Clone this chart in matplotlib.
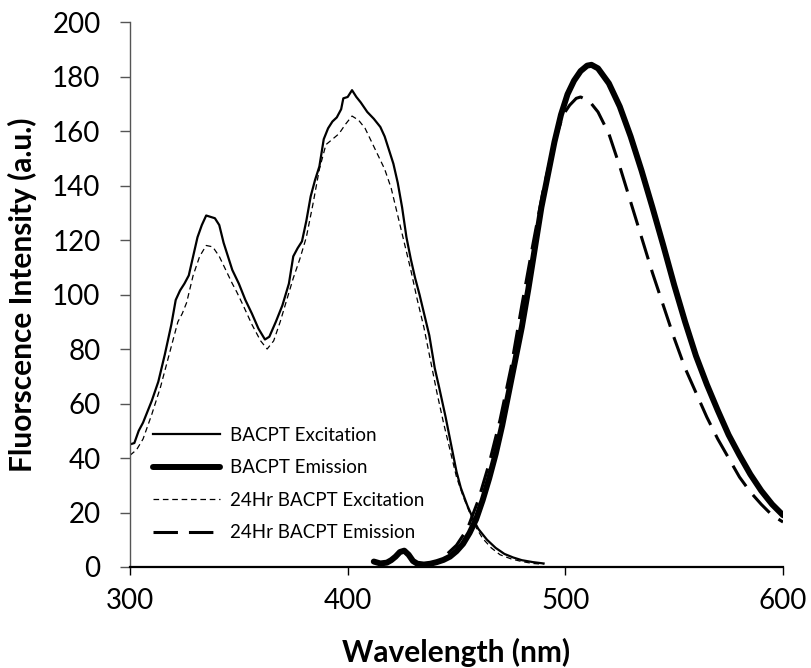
import matplotlib
matplotlib.use("Agg")
import matplotlib.pyplot as plt

plt.rcParams['font.family'] = ['Lato', 'DejaVu Sans']

# BACPT Excitation
exc_x = [300, 302, 304, 306, 308, 310, 313, 316, 319, 321, 323, 325, 327, 329, 331, 333, 335, 337, 339,
         341, 343, 345, 347, 350, 353, 356, 359, 362, 364, 367, 370, 373, 375, 377, 379, 381, 383, 385,
         387, 389, 391, 393, 395, 397, 398, 400, 402, 404, 406, 409, 412, 415, 417, 419, 421, 423, 425,
         427, 429, 431, 433, 436, 437.5, 440, 442, 445, 447, 450, 452, 455, 458, 460, 464, 468, 472,
         476, 480, 485, 490]
exc_y = [45, 45.5, 50, 53, 57, 61, 68, 78, 89, 98, 101.5, 104, 107, 114, 121, 125.5, 129, 128.5, 128,
         125.5, 119, 114, 109, 104, 98, 93, 87.5, 83.5, 84.5, 90, 96, 104, 114, 117, 119.5, 127, 136, 142,
         147, 157, 161, 163.5, 165, 168, 172, 172.5, 175, 172.5, 170.5, 167, 164.5, 161.5, 158, 153, 148,
         141, 132, 121, 113, 106, 100, 90, 85, 73, 66, 55, 47, 35, 29, 22.5, 17, 14, 10, 7, 4.8,
         3.5, 2.5, 1.8, 1.3]

# BACPT Emission
em_x = [412, 415, 418, 420, 422, 424, 426, 428, 430, 432, 435, 438, 441, 444, 447, 450, 453, 456, 459,
        462, 465, 468, 471, 474, 477, 480, 483, 486, 489, 492, 495, 498, 501, 504, 507, 510, 512, 515,
        520, 525, 530, 535, 540, 545, 550, 555, 560, 565, 570, 575, 580, 585, 590, 595, 600]
em_y = [2, 1.3, 1.6, 2.5, 3.8, 5.5, 6, 4.5, 2.2, 1.2, 0.9, 1.2, 1.8, 2.6, 3.8, 5.8, 8.5, 12.5, 17.5,
        24.5, 32.5, 41.5, 52, 64, 76, 88, 102, 117, 132, 144, 156, 166, 173.5, 178.5, 182, 184, 184.3, 183,
        177.5, 169, 158, 145.5, 132, 118, 103.5, 90, 77.5, 67, 57.5, 48.5, 41, 34, 28, 23, 19]

# 24Hr BACPT Excitation
exc24_x = [300, 303, 306, 310, 314, 318, 322, 324, 326, 329, 332, 335, 338, 341, 344, 347, 349, 352, 356,
           360, 363, 366, 369, 372, 375, 378, 381, 384, 387, 390, 393, 396, 399, 402, 405, 408, 411, 414,
           417, 420, 423, 426, 429, 432, 435, 438, 441, 444, 447, 450, 453, 456, 459, 462, 466, 470, 475,
           480, 485, 490]
exc24_y = [41, 43, 47, 56, 66, 78, 90, 93, 97, 107, 114, 118, 117.5, 114, 109, 104, 101, 96, 89,
           83, 80, 83, 90, 98, 106, 113, 121, 133, 146, 155, 157, 159, 162.5, 165.5, 164, 161, 156, 151,
           146, 139, 129, 119, 109, 98, 88, 76, 64, 53, 43, 33, 26, 20, 14.5, 10.5, 7, 4.5, 3,
           2, 1.3, 1]

# 24Hr BACPT Emission
em24_x = [446, 450, 455, 460, 465, 470, 475, 480, 485, 490, 495, 499, 502, 505, 507, 511, 515, 520, 525,
          530, 535, 540, 545, 550, 555, 560, 565, 570, 575, 580, 585, 590, 595, 600]
em24_y = [5, 8, 14, 24.5, 38, 54, 73, 96, 118, 139, 156, 166, 169.5, 172, 172.5, 171, 167, 159, 147,
          134, 121, 108, 96, 84, 73, 64, 55, 47, 40, 33, 27.5, 23, 19, 16.5]

labels = ['BACPT Excitation', 'BACPT Emission', '24Hr BACPT Excitation', '24Hr BACPT Emission']

fig = plt.figure(figsize=(8.11, 6.68), dpi=100)
ax = fig.add_axes([0.1603, 0.1512, 0.8052, 0.8158])

ax.plot(exc_x, exc_y, color='black', lw=1.6, label=labels[0])
ax.plot(em_x, em_y, color='black', lw=4.3, solid_capstyle='round', label=labels[1])
ax.plot(exc24_x, exc24_y, color='black', lw=0.9, linestyle=(0, (4.5, 3)), label=labels[2])
ax.plot(em24_x, em24_y, color='black', lw=2.2, linestyle=(0, (8, 3.6)), label=labels[3])

ax.set_xlim(300, 600)
ax.set_ylim(0, 200)
ax.set_xticks([300, 400, 500, 600])
ax.set_yticks(range(0, 201, 20))

for s in ['top', 'right']:
    ax.spines[s].set_visible(False)
ax.spines['left'].set_color('#555555')
ax.spines['left'].set_linewidth(1.0)
ax.spines['bottom'].set_color('black')
ax.spines['bottom'].set_linewidth(1.6)

ax.tick_params(axis='y', direction='out', length=7.2, width=1, color='#555555', labelsize=20, pad=14)
ax.tick_params(axis='x', direction='out', length=6, width=1, color='black', labelsize=20, pad=9)

ax.set_xlabel('Wavelength (nm)', fontsize=21.5, fontweight='bold', labelpad=17)
ax.set_ylabel('Fluorscence Intensity (a.u.)', fontsize=21.5, fontweight='bold', labelpad=11)

ax.legend(loc='upper left', bbox_to_anchor=(0.035, 0.257), frameon=False, fontsize=13.5,
          handlelength=3.6, handletextpad=0.5, labelspacing=0.82, borderpad=0, borderaxespad=0)

fig.savefig('out.png', dpi=100)
